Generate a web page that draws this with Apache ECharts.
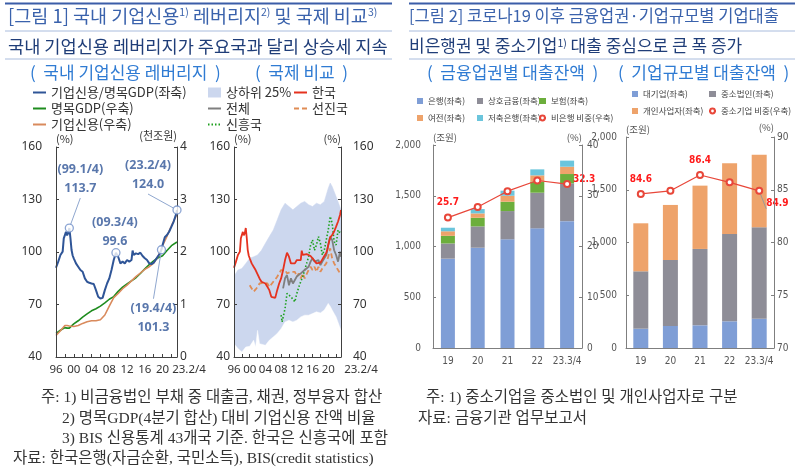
<!DOCTYPE html>
<html><head><meta charset="utf-8">
<script src="https://cdn.jsdelivr.net/npm/echarts@6/dist/echarts.min.js"></script>
<style>html,body{margin:0;padding:0;background:#fff}#c{width:800px;height:468px}</style>
</head><body><div id="c"></div><script>
// ---------- DATA ----------
// Chart 1: domestic corporate credit leverage
const levT = [1996.0,1996.5,1997.0,1997.5,1997.75,1998.0,1998.25,1998.5,1998.75,1999.0,1999.25,1999.5,1999.75,2000.0,2000.5,2001.0,2001.5,2002.0,2002.5,2003.0,2003.5,2004.0,2004.5,2005.0,2005.5,2006.0,2006.5,2007.0,2007.5,2008.0,2008.5,2009.0,2009.5,2010.0,2010.5,2011.0,2011.5,2012.0,2012.5,2013.0,2013.25,2013.5,2014.0,2014.5,2015.0,2015.5,2016.0,2016.5,2017.0,2017.5,2018.0,2018.5,2019.0,2019.5,2019.75,2020.0,2020.5,2021.0,2021.5,2022.0,2022.5,2023.0,2023.25];
const levV = [91.0,94.5,98.3,100.2,107.8,108.4,111.5,109.5,110.8,113.7,108.0,101.1,98.0,96.4,93.5,91.6,89.7,88.7,84.9,83.0,82.4,82.0,81.7,78.2,74.4,73.4,73.8,78.2,82.0,84.9,89.7,95.4,99.6,97.3,93.5,94.5,93.5,95.4,94.5,95.4,100.8,98.3,99.2,98.8,99.6,97.7,96.4,95.4,93.5,93.1,93.9,95.8,97.7,99.5,101.3,104.0,108.4,109.7,111.7,114.5,117.4,121.2,124.0];
const gdpT = [1996,1997,1998,1998.5,1999,2000,2001,2002,2003,2004,2005,2006,2007,2008,2009,2010,2011,2012,2013,2014,2015,2016,2017,2018,2019,2020,2021,2022,2023.25];
const gdpV = [0.45,0.51,0.56,0.55,0.55,0.63,0.69,0.76,0.82,0.88,0.92,0.97,1.03,1.10,1.15,1.25,1.33,1.39,1.45,1.51,1.59,1.68,1.76,1.83,1.89,1.93,2.03,2.12,2.19];
const credV = [0.41,0.50,0.60,0.60,0.59,0.58,0.60,0.64,0.67,0.69,0.69,0.71,0.80,0.97,1.13,1.21,1.30,1.37,1.45,1.53,1.60,1.67,1.72,1.79,1.92,2.12,2.30,2.50,2.72];
const annoT = [1999.0, 2009.5, 2019.75, 2023.25];
const annoTag = ['99.1/4', '09.3/4', '19.4/4', '23.2/4'];
const annoV = [113.7, 99.6, 101.3, 124.0];
const xTickLabelEnd = '23.2/4';

// Chart 2: international comparison
const korT = levT, korV = levV;
const allT = [2008.5,2009,2009.5,2010,2010.5,2011,2011.5,2012,2012.5,2013,2013.5,2014,2014.5,2015,2015.5,2016,2016.5,2017,2017.5,2018,2018.5,2019,2019.5,2020,2020.5,2021,2021.5,2022,2022.5,2023,2023.25];
const allV = [79.2,85.0,86.8,81.0,85.0,82.0,83.0,86.0,85.0,87.8,87.8,89.7,88.7,91.6,94.5,96.4,94.5,93.5,95.4,92.5,94.5,95.4,98.3,104.0,108.8,106.9,101.0,98.3,94.5,100.2,97.3];
const advT = [2000,2000.5,2001,2001.5,2002,2002.5,2003,2003.5,2004,2004.5,2005,2005.5,2006,2006.5,2007,2007.5,2008,2008.5,2009,2009.5,2010,2010.5,2011,2011.5,2012,2012.5,2013,2013.5,2014,2014.5,2015,2015.5,2016,2016.5,2017,2017.5,2018,2018.5,2019,2019.5,2020,2020.5,2021,2021.5,2022,2022.5,2023,2023.25];
const advV = [81,79.2,77.3,78.6,80,82,83,82.5,82.5,82,80,81,83,84.3,85.9,87.8,89.7,90.6,89.7,87.8,86.8,88.7,87.8,88.7,85.9,87.8,84.9,87.8,84.9,85.9,89.7,91.6,89.7,91.6,88.7,91.6,88.7,90.6,91.6,93.5,97.3,102.1,96.4,93.5,91.6,89.7,87.8,88.7];
const emT = [2008,2008.25,2008.5,2009,2009.5,2010,2010.5,2011,2011.5,2012,2012.5,2013,2013.5,2014,2014.5,2015,2015.5,2016,2016.5,2017,2017.5,2018,2018.5,2019,2019.5,2020,2020.5,2021,2021.5,2022,2022.5,2023,2023.25];
const emV = [63.9,60.0,61.0,67.7,76.3,75.3,74.4,75.3,71.5,76.3,80.0,83.0,85.9,89.7,93.5,97.3,104.0,106.9,101.0,104.0,108.8,105.0,98.3,101.0,106.9,112.6,120.3,116.4,105.9,104.0,112.6,110.7,111.7];
const bandT = [1996,1997,1998,1999,2000,2001,2001.5,2002,2002.5,2003,2004,2005,2006,2007,2008,2009,2010,2011,2012,2013,2014,2015,2016,2017,2018,2019,2020,2020.5,2021,2022,2023.25];
const bandHi = [86.2,89.7,90.6,93.5,96.4,97.3,97.8,98.3,99.0,101.0,105.0,108.8,112.6,118.3,124.1,127.9,126.0,124.1,126.0,127.9,128.9,127.0,126.0,127.9,127.0,128.9,136.5,139.4,137.5,131.7,124.1];
const bandLo = [47.6,44.8,42.9,45.7,46.1,49.6,45.7,55.2,47.6,48.0,46.7,49.6,51.5,53.4,56.2,60.0,61.0,60.0,61.0,62.9,63.9,63.9,64.8,65.8,65.2,66.8,70.6,69.0,66.8,62.9,55.2];

// Chart 3: loans by financial sector (조원), non-bank share (%)
const barCats = ['19','20','21','22','23.3/4'];
const bank = [880,988,1071,1179,1250];
const mutual = [150,210,278,351,372];
const insur = [75,85,92,110,92];
const card = [45,43,59,61,72];
const savings = [35,43,50,59,60];
const nbShare = [25.7,27.8,30.9,33.0,32.3];

// Chart 4: loans by firm size (조원), SME share (%)
const large = [183,209,215,253,277];
const smeCorp = [544,625,724,828,867];
const indiv = [455,522,600,670,688];
const smeShare = [84.6,84.9,86.4,85.7,84.9];

// ---------- STYLE ----------
const KR = "'Noto Sans CJK KR','Noto Sans',sans-serif";
const NUM = "'Noto Sans','Noto Sans CJK KR',sans-serif";
const NAR = "'Liberation Sans Narrow','DejaVu Sans Condensed','Noto Sans CJK KR',sans-serif";
const SERIF = "'Liberation Serif','Noto Sans CJK KR',serif";
const AX = '#404040';
const zip = (a, b) => a.map((v, i) => [v, b[i]]);

function tsX(gridIndex, pad) {
  return {
    type: 'value', gridIndex, min: 1996, max: 2023.25, interval: 2, z: 10,
    axisLine: {show: true, lineStyle: {color: AX, width: 1}},
    axisTick: {show: true, inside: true, length: 3, lineStyle: {color: AX}},
    splitLine: {show: false},
    axisLabel: {
      fontSize: 11.5, color: '#333', fontFamily: NUM, margin: 7,
      formatter: v => Math.abs(v - 2023.25) < 0.01 ? '{e|' + xTickLabelEnd + '}' : (v % 4 === 0 ? String(v).slice(2) : ''),
      rich: {e: {fontSize: 11.5, color: '#333', fontFamily: NUM, padding: [0, 0, 0, pad]}}
    }
  };
}
function yAx(gridIndex, position, min, max, interval, margin, name, nameAlign, opt) {
  return Object.assign({
    type: 'value', gridIndex, position, min, max, interval, z: 10,
    axisLine: {show: true, lineStyle: {color: AX, width: 1}},
    axisTick: {show: true, inside: true, length: 3, lineStyle: {color: AX}},
    splitLine: {show: false},
    axisLabel: {fontSize: 12, color: '#333', fontFamily: NUM, margin},
    name, nameLocation: 'end', nameGap: 3,
    nameTextStyle: {fontSize: 11, color: '#333', fontFamily: KR, align: nameAlign, verticalAlign: 'bottom'}
  }, opt || {});
}
const barY = (g, pos, min, max, itv, margin, name, align, fmt) => yAx(g, pos, min, max, itv, margin, name, align, {
  axisLabel: {fontSize: 10, color: '#555', fontFamily: NAR, margin, formatter: fmt},
  axisLine: {show: true, lineStyle: {color: '#7f7f7f'}},
  axisTick: {show: true, inside: true, length: 3, lineStyle: {color: '#7f7f7f'}},
  nameTextStyle: {fontSize: 9.5, color: '#555', fontFamily: KR, align, verticalAlign: 'bottom'}
});
const barX = g => ({
  type: 'category', gridIndex: g, data: barCats,
  axisLine: {show: true, lineStyle: {color: '#7f7f7f'}}, axisTick: {show: false},
  axisLabel: {fontSize: 10, color: '#555', fontFamily: NAR, margin: 8, interval: 0}
});
const comma = v => v.toLocaleString('en-US');

const legendBase = (left, top, data, extra) => Object.assign({
  left, top, orient: 'vertical', data, itemWidth: 13, itemHeight: 10, itemGap: 3,
  padding: 0, selectedMode: false,
  itemStyle: {opacity: 0},
  textStyle: {fontSize: 13, color: '#333', fontFamily: KR, lineHeight: 13}
}, extra || {});
const barLegend = (left, top, data) => ({
  left, top, orient: 'vertical', data, itemWidth: 6, itemHeight: 6, itemGap: 7, padding: 0,
  selectedMode: false, icon: 'rect',
  textStyle: {fontSize: 8.5, color: '#444', fontFamily: KR, lineHeight: 10}
});

const hl = (x1, x2, y, w, c) => ({type: 'line', shape: {x1, y1: y, x2, y2: y}, style: {stroke: c, lineWidth: w}, silent: true});
const tx = (x, y, text, font, fill, extra) => ({type: 'text', x, y, silent: true,
  style: Object.assign({text, font, fill, verticalAlign: 'middle', align: 'left'}, extra || {})});
const sup = {s: {fontSize: 10.5, verticalAlign: 'top', fontFamily: KR}};

const annoDx = [11, -1, -8, -29];
const annoDy = [-49, -21, 68, -35];

const option = {
  animation: false,
  backgroundColor: '#fff',
  grid: [
    {left: 56, top: 147, width: 121, height: 210, outerBoundsMode: 'none'},
    {left: 234, top: 147, width: 107, height: 210, outerBoundsMode: 'none'},
    {left: 433, top: 145, width: 149, height: 203, outerBoundsMode: 'none'},
    {left: 626, top: 137, width: 148, height: 211, outerBoundsMode: 'none'}
  ],
  xAxis: [tsX(0, 24), tsX(1, 40), barX(2), barX(3)],
  yAxis: [
    yAx(0, 'left', 40, 160, 30, 14, '(%)', 'left'),
    yAx(0, 'right', 0, 4, 1, 3, '(천조원)', 'right'),
    yAx(1, 'left', 40, 160, 30, 4, '(%)', 'left'),
    yAx(1, 'right', 40, 160, 30, 12, '(%)', 'right'),
    barY(2, 'left', 0, 2000, 500, 12, '(조원)', 'left', comma),
    barY(2, 'right', 0, 40, 10, 5, '(%)', 'right'),
    barY(3, 'left', 0, 2000, 500, 9, '(조원)', 'left', comma),
    barY(3, 'right', 70, 90, 5, 3, '(%)', 'right')
  ],
  legend: [
    legendBase(32, 86, ['기업신용/명목GDP(좌축)', '명목GDP(우축)', '기업신용(우축)']),
    legendBase(207, 86, [{name: '상하위 25%', icon: 'rect', itemStyle: {opacity: 1, color: '#CCD7EE'}}, '전체', '신흥국']),
    legendBase(293, 86, ['한국', '선진국']),
    barLegend(417, 96, ['은행(좌축)', '여전(좌축)']),
    barLegend(477, 96, ['상호금융(좌축)', '저축은행(좌축)']),
    Object.assign(barLegend(538, 96, [{name: '보험(좌축)', icon: 'rect'}, {name: '비은행 비중(우축)', icon: 'inherit'}]), {icon: null, itemWidth: 7}),
    barLegend(632, 89, ['대기업(좌축)', '개인사업자(좌축)']),
    Object.assign(barLegend(708, 89, [{name: '중소법인(좌축)', icon: 'rect'}, {name: '중소기업 비중(우축)', icon: 'inherit'}]), {icon: null, itemWidth: 7})
  ],
  series: [
    // chart 1
    {name: '명목GDP(우축)', type: 'line', xAxisIndex: 0, yAxisIndex: 1, data: zip(gdpT, gdpV), symbol: 'none', color: '#1E8C1E', lineStyle: {width: 1.6}},
    {name: '기업신용(우축)', type: 'line', xAxisIndex: 0, yAxisIndex: 1, data: zip(gdpT, credV), symbol: 'none', color: '#D98A5C', lineStyle: {width: 1.6}},
    {name: '기업신용/명목GDP(좌축)', type: 'line', xAxisIndex: 0, yAxisIndex: 0, data: zip(levT, levV), symbol: 'none', color: '#2F5597', lineStyle: {width: 2}},
    {name: 'anno', type: 'scatter', xAxisIndex: 0, yAxisIndex: 0, z: 10,
      data: annoT.map((t, i) => ({value: [t, annoV[i]], labelLine: {show: i !== 1}})),
      symbol: 'circle', symbolSize: 8,
      itemStyle: {color: '#fff', borderColor: '#6F8FC8', borderWidth: 1.3},
      label: {show: true, position: 'inside', color: '#2F5597', fontSize: 12.5, fontWeight: 'bold', fontFamily: NUM, lineHeight: 19,
        formatter: p => '(' + annoTag[p.dataIndex] + ')\n' + annoV[p.dataIndex].toFixed(1)},
      labelLine: {show: true, lineStyle: {color: '#8FA7CF', width: 1}},
      labelLayout: p => ({dx: annoDx[p.dataIndex], dy: annoDy[p.dataIndex]})
    },
    // chart 2: band = upper area, then lower area covered in white
    {name: '상하위 25%', type: 'line', xAxisIndex: 1, yAxisIndex: 2, data: zip(bandT, bandHi), symbol: 'none', color: '#CCD7EE', z: 1,
      lineStyle: {width: 0.5, color: '#CCD7EE'}, areaStyle: {color: '#CCD7EE', opacity: 1, origin: 'start'}},
    {name: 'bandLo', type: 'line', xAxisIndex: 1, yAxisIndex: 2, data: zip(bandT, bandLo), symbol: 'none', color: '#ffffff', z: 1,
      lineStyle: {width: 0.5, color: '#ffffff'}, areaStyle: {color: '#ffffff', opacity: 1, origin: 'start'}, silent: true},
    {name: '선진국', type: 'line', xAxisIndex: 1, yAxisIndex: 2, data: zip(advT, advV), symbol: 'none', color: '#E08C55', lineStyle: {width: 1.8, type: [5, 3]}},
    {name: '신흥국', type: 'line', xAxisIndex: 1, yAxisIndex: 2, data: zip(emT, emV), symbol: 'none', color: '#1EA01E', lineStyle: {width: 1.6, type: [1.5, 2]}},
    {name: '전체', type: 'line', xAxisIndex: 1, yAxisIndex: 2, data: zip(allT, allV), symbol: 'none', color: '#7F7F7F', lineStyle: {width: 1.8}},
    {name: '한국', type: 'line', xAxisIndex: 1, yAxisIndex: 2, data: zip(korT, korV), symbol: 'none', color: '#E5321F', lineStyle: {width: 1.8}},
    // chart 3
    {name: '은행(좌축)', type: 'bar', xAxisIndex: 2, yAxisIndex: 4, stack: 'a', barWidth: 14, data: bank, color: '#7F9ED6'},
    {name: '상호금융(좌축)', type: 'bar', xAxisIndex: 2, yAxisIndex: 4, stack: 'a', data: mutual, color: '#8E8D97'},
    {name: '보험(좌축)', type: 'bar', xAxisIndex: 2, yAxisIndex: 4, stack: 'a', data: insur, color: '#6CAE3C'},
    {name: '여전(좌축)', type: 'bar', xAxisIndex: 2, yAxisIndex: 4, stack: 'a', data: card, color: '#EEA36B'},
    {name: '저축은행(좌축)', type: 'bar', xAxisIndex: 2, yAxisIndex: 4, stack: 'a', data: savings, color: '#6BC5DC'},
    {name: '비은행 비중(우축)', type: 'line', xAxisIndex: 2, yAxisIndex: 5, z: 5, color: '#E8473A',
      symbol: 'emptyCircle', symbolSize: 6, lineStyle: {width: 1.2},
      data: nbShare.map((v, i) => ({value: v, label: i === 0 ? {show: true, position: 'top', distance: 6} : (i === 4 ? {show: true, position: 'right', distance: 2, offset: [0, -5]} : {show: false})})),
      label: {color: '#FF1A1A', fontSize: 10, fontWeight: 'bold', fontFamily: NAR}
    },
    // chart 4
    {name: '대기업(좌축)', type: 'bar', xAxisIndex: 3, yAxisIndex: 6, stack: 'b', barWidth: 15, data: large, color: '#7F9ED6'},
    {name: '중소법인(좌축)', type: 'bar', xAxisIndex: 3, yAxisIndex: 6, stack: 'b', data: smeCorp, color: '#8E8D97'},
    {name: '개인사업자(좌축)', type: 'bar', xAxisIndex: 3, yAxisIndex: 6, stack: 'b', data: indiv, color: '#EEA36B'},
    {name: '중소기업 비중(우축)', type: 'line', xAxisIndex: 3, yAxisIndex: 7, z: 5, color: '#E8473A',
      symbol: 'emptyCircle', symbolSize: 6, lineStyle: {width: 1.2},
      data: smeShare.map((v, i) => ({value: v,
        label: (i === 0 || i === 2) ? {show: true, position: 'top', distance: 6} : (i === 4 ? {show: true, position: 'right', distance: 3, offset: [0, 13]} : {show: false}),
        labelLine: {show: i === 4, lineStyle: {color: '#999', width: 1}}})),
      label: {color: '#FF1A1A', fontSize: 10, fontWeight: 'bold', fontFamily: NAR, formatter: p => p.value.toFixed(1)}
    }
  ],
  graphic: [
    hl(5, 392, 3.5, 2, '#3B5DA8'), hl(5, 392, 31, 1, '#A9BCDD'), hl(5, 392, 59, 1, '#A9BCDD'),
    hl(409, 795, 3.5, 2, '#3B5DA8'), hl(409, 795, 31, 1, '#A9BCDD'), hl(409, 795, 59, 1, '#A9BCDD'),
    tx(8, 16, '[그림 1] 국내 기업신용{s|1)} 레버리지{s|2)} 및 국제 비교{s|3)}', "18.5px " + KR, '#3A62AC', {rich: sup}),
    tx(8, 46, '국내 기업신용 레버리지가 주요국과 달리 상승세 지속', "17.6px " + KR, '#1F3D78'),
    tx(30, 73, '(  국내 기업신용 레버리지  )', "17px " + KR, '#2F7BD3'),
    tx(255, 73, '(  국제 비교  )', "17px " + KR, '#2F7BD3'),
    tx(409, 16, '[그림 2] 코로나19 이후 금융업권·기업규모별 기업대출', "16.5px " + KR, '#3A62AC'),
    tx(409, 46, '비은행권 및 중소기업{s|1)} 대출 중심으로 큰 폭 증가', "17px " + KR, '#1F3D78', {rich: sup}),
    tx(427, 73, '(  금융업권별 대출잔액  )', "17px " + KR, '#2F7BD3'),
    tx(618, 73, '(  기업규모별 대출잔액  )', "17px " + KR, '#2F7BD3'),
    tx(41, 398, '주: 1) 비금융법인 부채 중 대출금, 채권, 정부융자 합산', "15.5px " + SERIF, '#333'),
    tx(62, 419, '2) 명목GDP(4분기 합산) 대비 기업신용 잔액 비율', "15.5px " + SERIF, '#333'),
    tx(62, 439, '3) BIS 신용통계 43개국 기준. 한국은 신흥국에 포함', "15.5px " + SERIF, '#333'),
    tx(13, 459, '자료: 한국은행(자금순환, 국민소득), BIS(credit statistics)', "15.5px " + SERIF, '#333'),
    tx(426, 398, '주: 1) 중소기업을 중소법인 및 개인사업자로 구분', "15.5px " + SERIF, '#333'),
    tx(418, 419, '자료: 금융기관 업무보고서', "15.5px " + SERIF, '#333')
  ]
};
const chart = echarts.init(document.getElementById('c'), null, {renderer: 'canvas'});
chart.setOption(option);
</script></body></html>
